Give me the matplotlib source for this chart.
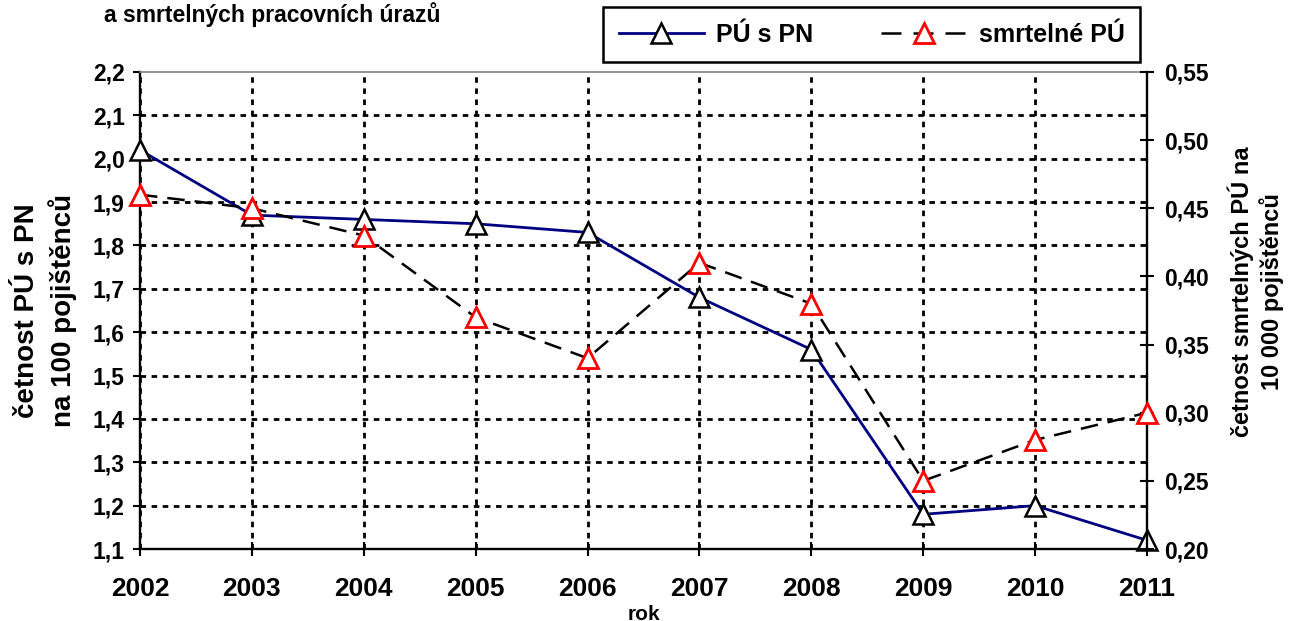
"""Četnost pracovních úrazů s PN a smrtelných pracovních úrazů, 2002-2011."""

import matplotlib

matplotlib.use("Agg")
import matplotlib.pyplot as plt
from matplotlib.lines import Line2D

plt.rcParams["font.family"] = ["Liberation Sans", "DejaVu Sans"]
plt.rcParams["font.weight"] = "bold"

# data
years = ["2002", "2003", "2004", "2005", "2006", "2007", "2008", "2009", "2010", "2011"]
pu_s_pn = [2.02, 1.87, 1.86, 1.85, 1.83, 1.68, 1.56, 1.18, 1.20, 1.12]
smrtelne_pu = [0.46, 0.45, 0.43, 0.37, 0.34, 0.41, 0.38, 0.25, 0.28, 0.30]

left_ticks = [1.1, 1.2, 1.3, 1.4, 1.5, 1.6, 1.7, 1.8, 1.9, 2.0, 2.1, 2.2]
right_ticks = [0.20, 0.25, 0.30, 0.35, 0.40, 0.45, 0.50, 0.55]

NAVY = "#000080"
W, H = 1297, 621

fig = plt.figure(figsize=(W / 100, H / 100), dpi=100)
ax = fig.add_axes([140 / W, 1 - 549 / H, (1147 - 140) / W, (549 - 72) / H])
ax2 = ax.twinx()

x = list(range(len(years)))

ax.plot(x, pu_s_pn, color=NAVY, lw=2, marker="^", ms=14, mfc="white",
        mec="black", mew=1.8, clip_on=False, zorder=3)
(dash_line,) = ax2.plot(x, smrtelne_pu, color="black", lw=1.8, marker="^", ms=14,
                        mfc="white", mec="red", mew=2.0, clip_on=False, zorder=3)
dash_line.set_dashes((7, 4))

ax.set_xlim(0, len(years) - 1)
ax.set_ylim(left_ticks[0], left_ticks[-1])
ax2.set_ylim(right_ticks[0], right_ticks[-1])

ax.set_xticks(x)
ax.set_xticklabels(years, fontsize=19, fontweight="bold")
ax.set_yticks(left_ticks)
ax.set_yticklabels([f"{v:.1f}".replace(".", ",") for v in left_ticks],
                   fontsize=16.5, fontweight="bold")
ax2.set_yticks(right_ticks)
ax2.set_yticklabels([f"{v:.2f}".replace(".", ",") for v in right_ticks],
                    fontsize=16.5, fontweight="bold")

ax.tick_params(axis="x", direction="inout", length=10, width=1.5, pad=15)
ax.tick_params(axis="y", direction="out", length=5, width=1.5, pad=6)
ax2.tick_params(axis="y", direction="inout", length=10, width=1.5, pad=7)

# dotted grid, hide the one at the top edge (drawn as a grey border instead)
ax.grid(True, color="black", lw=2, linestyle=(0, (2, 2)))
ax.set_axisbelow(True)
ax.yaxis.get_gridlines()[-1].set_visible(False)

for s in ("left", "bottom"):
    ax.spines[s].set_linewidth(1.7)
ax.spines["right"].set_visible(False)
ax.spines["top"].set_color("#808080")
ax.spines["top"].set_linewidth(1.2)
for s in ("left", "bottom", "top"):
    ax2.spines[s].set_visible(False)
ax2.spines["right"].set_linewidth(1.7)

ax.set_ylabel("četnost PÚ s PN\nna 100 pojištěnců", fontsize=20,
              fontweight="bold", linespacing=1.35)
ax.yaxis.set_label_coords(-63 / 1007, 0.5)
ax2.set_ylabel("četnost smrtelných PÚ na\n10 000 pojištěnců", fontsize=17,
               fontweight="bold", linespacing=1.3)
ax2.yaxis.set_label_coords(1 + 80 / 1007, 0.54)

fig.text(643.5 / W, 1 - 614 / H, "rok", fontsize=15, fontweight="bold",
         ha="center", va="center")
fig.text(272 / W, 1 - 15 / H, "a smrtelných pracovních úrazů", fontsize=16.5,
         fontweight="bold", ha="center", va="center")

handles = [
    Line2D([], [], color=NAVY, lw=2, marker="^", ms=14, mfc="white",
           mec="black", mew=1.8),
    Line2D([], [], color="black", lw=1.8, dashes=(8, 4.8), marker="^", ms=14,
           mfc="white", mec="red", mew=2.0),
]
leg = fig.legend(handles, ["PÚ s PN", "smrtelné PÚ"], ncol=2, loc="lower left",
                 bbox_to_anchor=(603 / W, 1 - 62 / H, (1140 - 603) / W, 57 / H),
                 mode="expand", fontsize=18, handlelength=3.4, handletextpad=0.5,
                 columnspacing=3.0, borderpad=0.62, borderaxespad=0,
                 fancybox=False, framealpha=1, edgecolor="black")
leg.get_frame().set_linewidth(1.8)
for t in leg.get_texts():
    t.set_fontweight("bold")

fig.savefig("out.png", dpi=100)
